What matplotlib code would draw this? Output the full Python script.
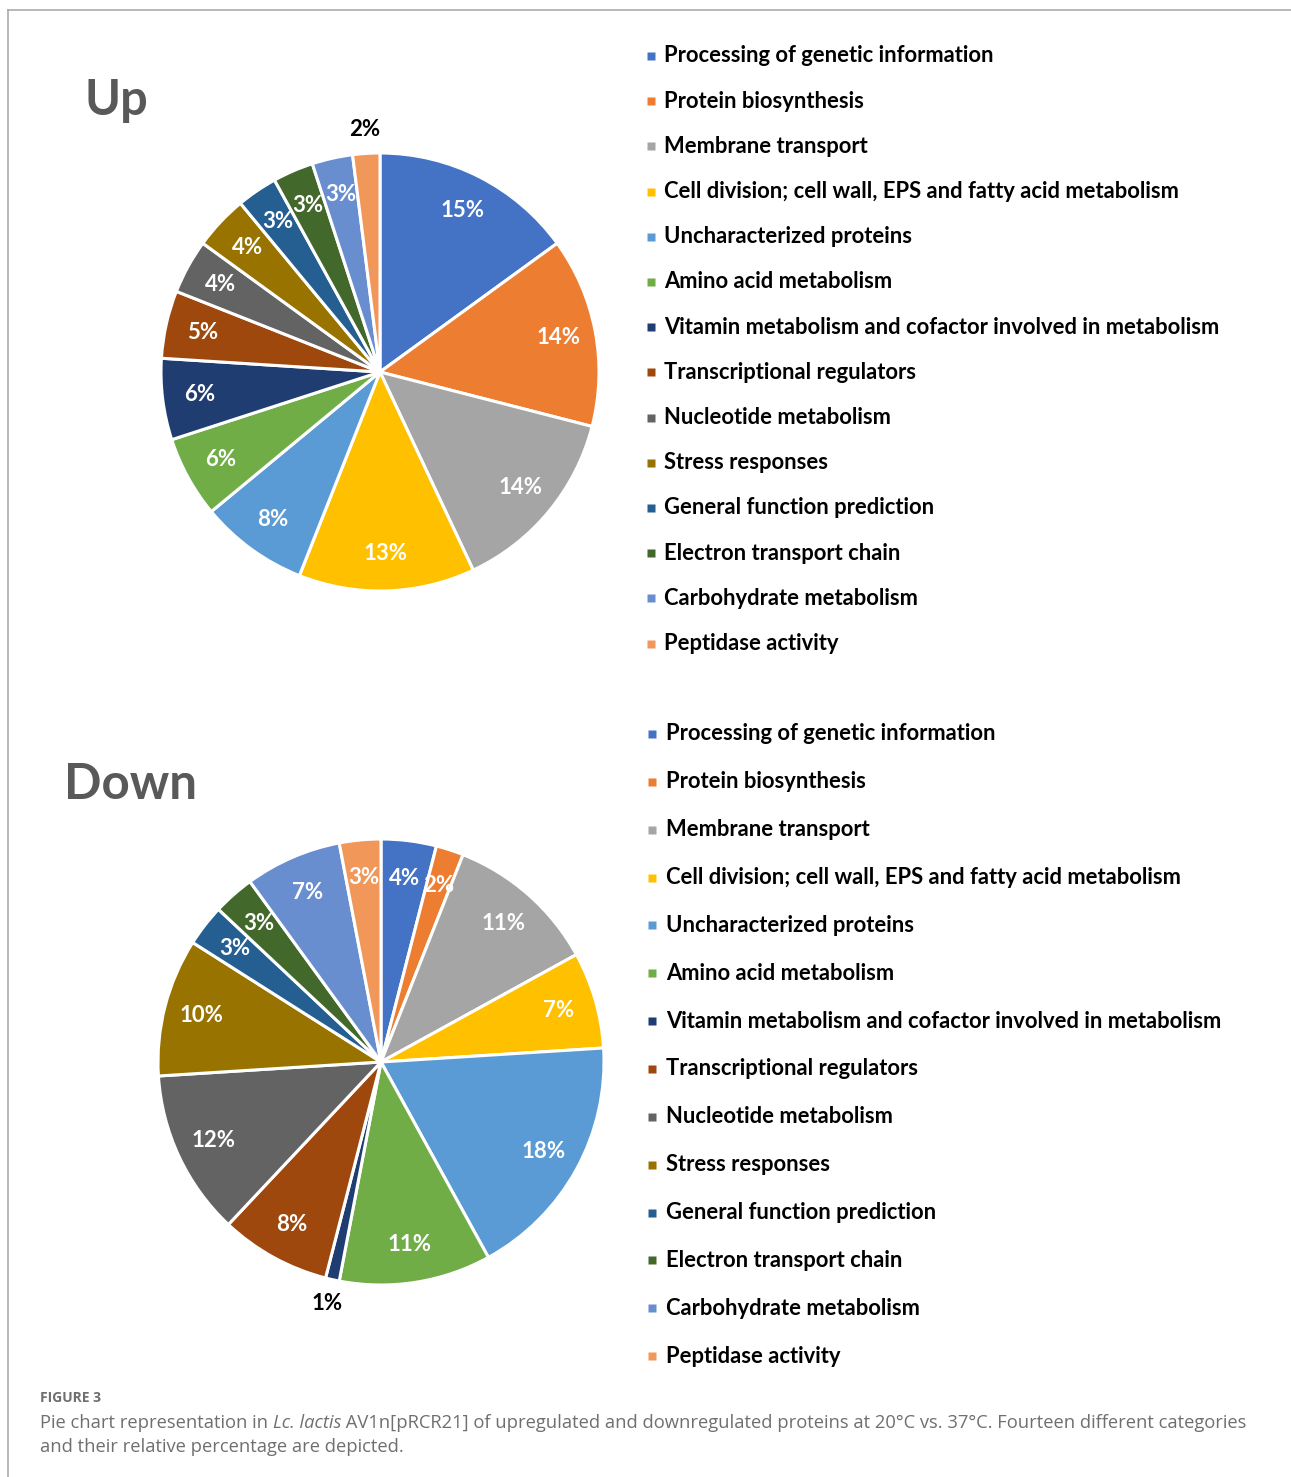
import numpy as np
import matplotlib.pyplot as plt

categories = [
    'Processing of genetic information',
    'Protein biosynthesis',
    'Membrane transport',
    'Cell division; cell wall, EPS and fatty acid metabolism',
    'Uncharacterized proteins',
    'Amino acid metabolism',
    'Vitamin metabolism and cofactor involved in metabolism',
    'Transcriptional regulators',
    'Nucleotide metabolism',
    'Stress responses',
    'General function prediction',
    'Electron transport chain',
    'Carbohydrate metabolism',
    'Peptidase activity',
]
colors = ['#4472C4', '#ED7D31', '#A5A5A5', '#FFC000', '#5B9BD5', '#70AD47', '#1F3D70',
          '#9E480E', '#636363', '#997300', '#255E91', '#43682B', '#698ED0', '#F1975A']

up_values = [15, 14, 14, 13, 8, 6, 6, 5, 4, 4, 3, 3, 3, 2]
down_values = [4, 2, 11, 7, 18, 11, 1, 8, 12, 10, 3, 3, 7, 3]

W, H = 1291, 1477
fig = plt.figure(figsize=(W / 100, H / 100), dpi=100)
ax = fig.add_axes([0, 0, 1, 1])


def draw_pie(values, cx, cy, r, outside):
    wedges, _, pcts = ax.pie(
        values, colors=colors, startangle=90, counterclock=False,
        center=(cx, H - cy), radius=r,
        autopct=lambda p: f'{p:.0f}%', pctdistance=0.83,
        wedgeprops=dict(edgecolor='white', linewidth=2.2),
        textprops=dict(color='white', fontsize=16, fontweight='bold', family='Lato'))
    # tiny slices get their label outside the pie, in black
    for name in outside:
        i = categories.index(name)
        th = np.deg2rad((wedges[i].theta1 + wedges[i].theta2) / 2)
        pcts[i].set_position((cx + 1.11 * r * np.cos(th), H - cy + 1.11 * r * np.sin(th)))
        pcts[i].set_color('black')


def draw_legend(y0, step, xm, xt):
    for i, (name, c) in enumerate(zip(categories, colors)):
        y = H - (y0 + i * step)
        ax.plot(xm, y, marker='s', ms=5.5, color=c, mec='none')
        ax.text(xt, y, name, fontsize=15.8, fontweight='bold', family='Lato',
                va='center', color='black')


draw_pie(up_values, 380, 372, 219, ['Peptidase activity'])
draw_pie(down_values, 381, 1062, 223,
         ['Vitamin metabolism and cofactor involved in metabolism'])
draw_legend(56, 45.2, 651, 664)
draw_legend(734, 47.85, 652, 666)

ax.text(85, H - 115, 'Up', fontsize=35, fontweight='bold', family='Lato',
        color='#595959', va='baseline')
ax.text(64, H - 799, 'Down', fontsize=35.5, fontweight='bold', family='Lato',
        color='#595959', va='baseline')

# frame
ax.plot([8, 8], [0, H - 10], color='#ababab', lw=1.2)
ax.plot([8, W], [H - 10, H - 10], color='#ababab', lw=1.2)

ax.set_xlim(0, W)
ax.set_ylim(0, H)
ax.axis('off')

# caption
cap = dict(fontsize=13.2, family='Open Sans', color='#6f6f6f', va='baseline')
ax.text(40, H - 1402, 'FIGURE 3', fontsize=10, fontweight='bold', family='Open Sans',
        color='#6f6f6f', va='baseline')
renderer = fig.canvas.get_renderer()
x = 40
for s, style in [('Pie chart representation in ', 'normal'), ('Lc. lactis', 'italic'),
                 (' AV1n[pRCR21] of upregulated and downregulated proteins at 20\u00b0C vs. 37\u00b0C. '
                  'Fourteen different categories', 'normal')]:
    t = ax.text(x, H - 1428, s, style=style, **cap)
    x += t.get_window_extent(renderer).width
ax.text(40, H - 1452, 'and their relative percentage are depicted.', **cap)

fig.savefig('out.png', dpi=100, facecolor='white')
